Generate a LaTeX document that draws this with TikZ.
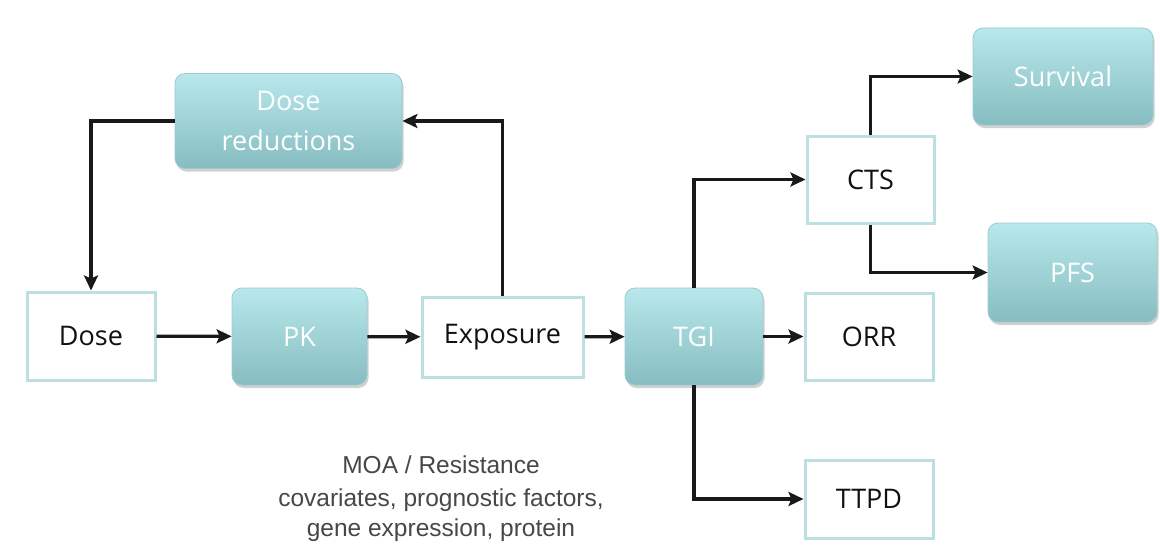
\documentclass[tikz,border=0pt]{standalone}
\usepackage{fontspec}
\setmainfont{Open Sans}
\newfontfamily\arialfont{Liberation Sans}
\usetikzlibrary{arrows.meta,shadows}
\definecolor{tealtop}{HTML}{B8E8EB}
\definecolor{tealbot}{HTML}{86BDC1}
\definecolor{tealedge}{HTML}{9CCBCF}
\definecolor{boxedge}{HTML}{BCDFE1}
\definecolor{txt}{HTML}{111111}
\tikzset{
  x=1pt, y=-1pt,
  tealbox/.style={rectangle, rounded corners=10pt, draw=tealedge, line width=0.8pt,
    top color=tealtop, bottom color=tealbot, text=white, font=\fontsize{27}{40}\selectfont,
    align=center, inner sep=0pt,
    drop shadow={shadow xshift=1.5pt, shadow yshift=-3pt, opacity=0.3, fill=black!60}},
  whitebox/.style={rectangle, draw=boxedge, line width=3pt, fill=white, text=txt,
    font=\fontsize{27}{30}\selectfont, inner sep=0pt},
  conn/.style={line width=3.2pt, draw=black!90, -{Stealth[length=15pt,width=14pt,inset=3pt]}},
  note/.style={font=\arialfont\fontsize{24.5}{30}\selectfont, text=black!72, align=center}
}
\begin{document}
\begin{tikzpicture}
\useasboundingbox (0,0) rectangle (1160,551);
% teal boxes
\node[tealbox, minimum width=227pt, minimum height=95pt] (dr) at (288.5,121) {Dose\\reductions};
\node[tealbox, minimum width=135pt, minimum height=97pt] (pk) at (299.5,336.5) {PK};
\node[tealbox, minimum width=138pt, minimum height=97pt] (tgi) at (694,336.5) {TGI};
\node[tealbox, minimum width=180pt, minimum height=97pt] (surv) at (1063,76.5) {Survival};
\node[tealbox, minimum width=169pt, minimum height=99pt] (pfs) at (1072.5,272.5) {PFS};
% white boxes
\node[whitebox, minimum width=128pt, minimum height=88pt] (dose) at (91,336) {Dose};
\node[whitebox, minimum width=161pt, minimum height=80pt] (exp) at (502.5,337) {Exposure};
\node[whitebox, minimum width=127pt, minimum height=87pt] (cts) at (870.5,179.5) {CTS};
\node[whitebox, minimum width=128pt, minimum height=87pt] (orr) at (869,336.5) {ORR};
\node[whitebox, minimum width=128pt, minimum height=78pt] (ttpd) at (869,499) {TTPD};
% notes
\node[note] (moa) at (441,465) {MOA / Resistance};
\node[note] (cov) at (441,515) {covariates, prognostic factors,\\gene expression, protein};
% connectors
\draw[conn] (dose) -- (pk);
\draw[conn] (pk) -- (exp);
\draw[conn] (exp) -- (tgi);
\draw[conn] (tgi) -- (orr);
\draw[conn] (exp.north) |- (dr.east);
\draw[conn] (dr.west) -| (dose.north);
\draw[conn] (tgi.north) |- (cts.west);
\draw[conn] (tgi.south) |- (ttpd.west);
\draw[conn] (cts.north) |- (surv.west);
\draw[conn] (cts.south) |- (pfs.west);
\end{tikzpicture}
\end{document}
